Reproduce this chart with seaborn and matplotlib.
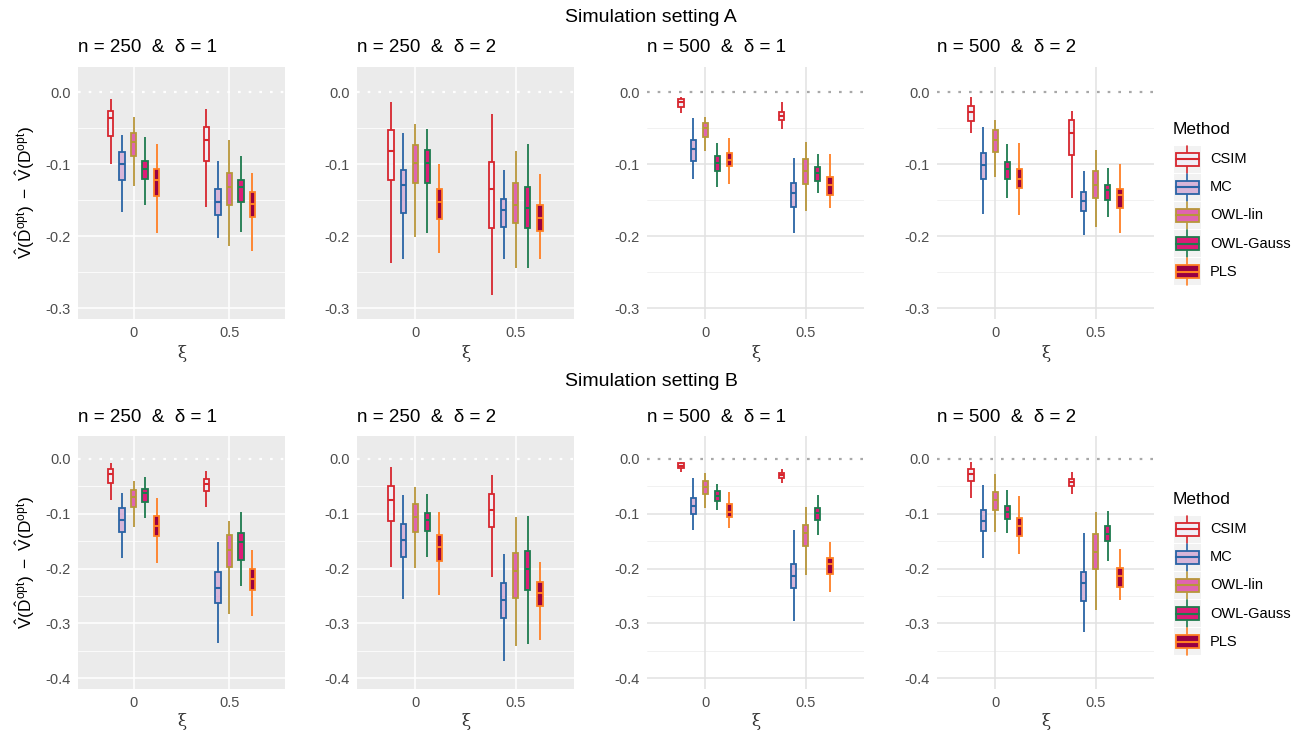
import numpy as np
import pandas as pd
import seaborn as sns
import matplotlib.pyplot as plt
from matplotlib.patches import Rectangle

sns.set_theme(style="white")
plt.rcParams["font.family"] = ["Liberation Sans", "DejaVu Sans"]
plt.rcParams["axes.unicode_minus"] = False
plt.rcParams["mathtext.fontset"] = "custom"
plt.rcParams["mathtext.rm"] = "Liberation Sans"
plt.rcParams["mathtext.it"] = "Liberation Sans:italic"

methods = ["CSIM", "MC", "OWL-lin", "OWL-Gauss", "PLS"]
xi_levels = ["0", "0.5"]
fill_colors = ["#F1EEF6", "#D7B5D8", "#DF65B0", "#DD1C77", "#980043"]
edge_colors = ["#D7262E", "#2A64A5", "#B8963A", "#1E7B4E", "#FF7F24"]

# box summaries, one row per (xi, method):
# lower whisker, q1, median, q3, upper whisker
a_n250_d1 = [
    [-0.100, -0.061, -0.036, -0.026, -0.009],
    [-0.167, -0.122, -0.100, -0.083, -0.059],
    [-0.130, -0.088, -0.069, -0.056, -0.035],
    [-0.156, -0.121, -0.106, -0.096, -0.062],
    [-0.196, -0.144, -0.122, -0.107, -0.072],
    [-0.159, -0.095, -0.067, -0.049, -0.024],
    [-0.203, -0.171, -0.153, -0.134, -0.095],
    [-0.214, -0.156, -0.131, -0.112, -0.067],
    [-0.194, -0.153, -0.132, -0.122, -0.088],
    [-0.220, -0.174, -0.155, -0.139, -0.112],
]
a_n250_d2 = [
    [-0.237, -0.122, -0.082, -0.053, -0.014],
    [-0.231, -0.168, -0.129, -0.108, -0.057],
    [-0.201, -0.126, -0.099, -0.073, -0.044],
    [-0.195, -0.126, -0.098, -0.080, -0.051],
    [-0.224, -0.176, -0.152, -0.134, -0.100],
    [-0.282, -0.188, -0.134, -0.097, -0.030],
    [-0.231, -0.187, -0.164, -0.149, -0.108],
    [-0.244, -0.182, -0.156, -0.126, -0.082],
    [-0.244, -0.188, -0.161, -0.132, -0.072],
    [-0.231, -0.193, -0.175, -0.157, -0.114],
]
a_n500_d1 = [
    [-0.029, -0.020, -0.014, -0.009, -0.006],
    [-0.120, -0.096, -0.079, -0.067, -0.036],
    [-0.082, -0.062, -0.050, -0.043, -0.035],
    [-0.132, -0.110, -0.099, -0.088, -0.071],
    [-0.127, -0.102, -0.094, -0.085, -0.063],
    [-0.051, -0.038, -0.033, -0.027, -0.014],
    [-0.195, -0.160, -0.140, -0.126, -0.091],
    [-0.165, -0.128, -0.109, -0.093, -0.069],
    [-0.140, -0.123, -0.112, -0.104, -0.086],
    [-0.161, -0.143, -0.129, -0.118, -0.086],
]
a_n500_d2 = [
    [-0.056, -0.040, -0.027, -0.019, -0.006],
    [-0.169, -0.121, -0.101, -0.085, -0.049],
    [-0.118, -0.083, -0.066, -0.052, -0.039],
    [-0.147, -0.120, -0.107, -0.097, -0.072],
    [-0.170, -0.133, -0.120, -0.106, -0.071],
    [-0.147, -0.087, -0.056, -0.039, -0.026],
    [-0.199, -0.165, -0.151, -0.138, -0.109],
    [-0.187, -0.147, -0.129, -0.109, -0.080],
    [-0.174, -0.150, -0.136, -0.129, -0.105],
    [-0.195, -0.161, -0.143, -0.134, -0.100],
]
b_n250_d1 = [
    [-0.075, -0.043, -0.028, -0.019, -0.008],
    [-0.181, -0.134, -0.112, -0.089, -0.062],
    [-0.124, -0.088, -0.069, -0.057, -0.041],
    [-0.107, -0.078, -0.062, -0.054, -0.032],
    [-0.189, -0.140, -0.122, -0.104, -0.071],
    [-0.087, -0.058, -0.046, -0.036, -0.022],
    [-0.336, -0.263, -0.236, -0.207, -0.151],
    [-0.283, -0.198, -0.166, -0.138, -0.113],
    [-0.232, -0.184, -0.152, -0.135, -0.096],
    [-0.287, -0.239, -0.220, -0.201, -0.166],
]
b_n250_d2 = [
    [-0.197, -0.113, -0.074, -0.049, -0.014],
    [-0.255, -0.179, -0.148, -0.118, -0.065],
    [-0.199, -0.133, -0.105, -0.083, -0.052],
    [-0.179, -0.131, -0.112, -0.099, -0.064],
    [-0.249, -0.187, -0.160, -0.139, -0.096],
    [-0.215, -0.124, -0.093, -0.063, -0.029],
    [-0.369, -0.291, -0.258, -0.226, -0.173],
    [-0.342, -0.253, -0.204, -0.171, -0.105],
    [-0.337, -0.240, -0.200, -0.168, -0.104],
    [-0.330, -0.269, -0.245, -0.224, -0.188],
]
b_n500_d1 = [
    [-0.023, -0.017, -0.012, -0.008, -0.005],
    [-0.130, -0.101, -0.086, -0.071, -0.034],
    [-0.089, -0.063, -0.052, -0.040, -0.025],
    [-0.093, -0.076, -0.067, -0.059, -0.045],
    [-0.126, -0.105, -0.096, -0.083, -0.061],
    [-0.043, -0.035, -0.030, -0.026, -0.018],
    [-0.295, -0.235, -0.213, -0.191, -0.130],
    [-0.212, -0.159, -0.136, -0.120, -0.087],
    [-0.138, -0.112, -0.098, -0.089, -0.065],
    [-0.243, -0.210, -0.192, -0.180, -0.151],
]
b_n500_d2 = [
    [-0.071, -0.040, -0.028, -0.018, -0.006],
    [-0.181, -0.132, -0.114, -0.094, -0.047],
    [-0.133, -0.094, -0.075, -0.060, -0.027],
    [-0.135, -0.109, -0.096, -0.086, -0.057],
    [-0.173, -0.141, -0.123, -0.107, -0.068],
    [-0.063, -0.049, -0.042, -0.036, -0.024],
    [-0.316, -0.260, -0.227, -0.207, -0.135],
    [-0.276, -0.200, -0.169, -0.137, -0.097],
    [-0.187, -0.150, -0.137, -0.122, -0.095],
    [-0.258, -0.233, -0.213, -0.199, -0.164],
]

panel_titles = ["n = 250  &  δ = 1", "n = 250  &  δ = 2",
                "n = 500  &  δ = 1", "n = 500  &  δ = 2"]
row_titles = ["Simulation setting A", "Simulation setting B"]
rows = [[a_n250_d1, a_n250_d2, a_n500_d1, a_n500_d2],
        [b_n250_d1, b_n250_d2, b_n500_d1, b_n500_d2]]
row_major = [[-0.3, -0.2, -0.1, 0.0], [-0.4, -0.3, -0.2, -0.1, 0.0]]
row_minor = [[-0.25, -0.15, -0.05], [-0.35, -0.25, -0.15, -0.05]]
row_ylim = [(-0.315, 0.035), (-0.42, 0.042)]

ylab = r"$\hat{\mathrm{V}}(\hat{\mathrm{D}}^{\mathrm{opt}})\ -\ \hat{\mathrm{V}}(\mathrm{D}^{\mathrm{opt}})$"


def to_long(stats):
    recs = []
    i = 0
    for xi in xi_levels:
        for m in methods:
            for v in stats[i]:
                recs.append({"xi": xi, "method": m, "value": v})
            i += 1
    return pd.DataFrame(recs)


W, H = 1303, 735
fig = plt.figure(figsize=(W / 100, H / 100), dpi=100)


def px_axes(x0, y0, x1, y1):
    return fig.add_axes([x0 / W, 1 - y1 / H, (x1 - x0) / W, (y1 - y0) / H])


panel_x = [(78, 285), (357, 574), (647, 864), (937, 1154)]
row_y = [(67, 319), (436, 689)]
title_y = [48, 418]
suptitle_y = [18, 382]
xlab_y = [353, 721]
legend_title_y = [129, 499]
legend_key_y = [159, 529]

for r in range(2):
    y0, y1 = row_y[r]
    fig.text(651 / W, 1 - suptitle_y[r] / H, row_titles[r], ha="center", va="center",
             fontsize=14, color="black")
    for p in range(4):
        x0, x1 = panel_x[p]
        ax = px_axes(x0, y0, x1, y1)
        gray = p < 2
        df = to_long(rows[r][p])
        sns.boxplot(data=df, x="xi", y="value", hue="method", order=xi_levels,
                    hue_order=methods, palette=fill_colors, saturation=1,
                    width=0.6, gap=0.55, whis=(0, 100), linewidth=1.2,
                    fliersize=0, legend=False, ax=ax)
        for k, cont in enumerate(ax.containers):
            ec = edge_colors[k]
            for b in cont.boxes:
                b.set_edgecolor(ec)
                b.set_facecolor(fill_colors[k])
                b.set_linewidth(1.3)
                b.set_zorder(3)
            for ln in cont.medians:
                ln.set_color(ec)
                ln.set_linewidth(1.5)
                ln.set_zorder(4)
            for ln in cont.whiskers:
                ln.set_color(ec)
                ln.set_linewidth(1.3)
                ln.set_zorder(2)
            for ln in cont.caps:
                ln.set_visible(False)

        ax.set_xlim(-0.58, 1.58)
        ax.set_ylim(*row_ylim[r])
        ax.set_yticks(row_major[r])
        ax.set_yticklabels([f"{t:.1f}" for t in row_major[r]])
        ax.set_xticks([0, 1])
        ax.set_xticklabels(xi_levels)
        ax.set_xlabel("")
        ax.set_ylabel("")
        ax.grid(False)
        for s in ax.spines.values():
            s.set_visible(False)

        if gray:
            ax.set_facecolor("#EBEBEB")
            major_col, minor_col, zero_col = "white", "white", "white"
            ax.tick_params(length=2.75, width=0.8, color="#333333",
                           pad=2.2, labelsize=10.5, labelcolor="#4D4D4D")
        else:
            ax.set_facecolor("white")
            major_col, minor_col, zero_col = "#E2E2E2", "#EEEEEE", "#A8A8A8"
            ax.tick_params(length=0, pad=5, labelsize=10.5, labelcolor="#4D4D4D")

        # panel grid (no solid line at zero, the dotted reference line sits there)
        for t in row_major[r]:
            if t != 0.0:
                ax.axhline(t, color=major_col, linewidth=1.1, zorder=0.5)
        for t in row_minor[r]:
            ax.axhline(t, color=minor_col, linewidth=0.55, zorder=0.5)
        for t in [0, 1]:
            ax.axvline(t, color=major_col, linewidth=1.1, zorder=0.5)
        ax.axhline(0, color=zero_col, linestyle=(0, (1.2, 3.6)), linewidth=1.6, zorder=1)

        fig.text(x0 / W, 1 - title_y[r] / H, panel_titles[p], ha="left", va="center",
                 fontsize=13.5, color="black")
        fig.text((x0 + x1) / 2 / W, 1 - xlab_y[r] / H, "ξ", ha="center", va="center",
                 fontsize=12, family="DejaVu Serif", color="#333333")

    fig.text(25 / W, 1 - (y0 + y1) / 2 / H, ylab, rotation=90, ha="center",
             va="center", fontsize=12.5, color="black")

    # legend drawn in pixel coordinates
    lt = legend_title_y[r] - 16
    lb = legend_key_y[r] + 5 * 28 + 4
    lax = px_axes(1165, lt, 1303, lb)
    lax.set_xlim(1165, 1303)
    lax.set_ylim(lb, lt)
    lax.axis("off")
    lax.text(1173, legend_title_y[r], "Method", ha="left", va="center",
             fontsize=12.5, color="black")
    for i, m in enumerate(methods):
        cy = legend_key_y[r] + i * 28.2
        cx = 1187
        lax.add_patch(Rectangle((cx - 13.5, cy - 13.5), 27, 27, facecolor="#F2F2F2",
                                edgecolor="none", zorder=1))
        lax.plot([cx, cx], [cy - 13.5, cy + 13.5], color=edge_colors[i], lw=1.2, zorder=2)
        lax.add_patch(Rectangle((cx - 11.5, cy - 6.5), 23, 13, facecolor=fill_colors[i],
                                edgecolor=edge_colors[i], lw=1.3, zorder=3))
        lax.plot([cx - 11.5, cx + 11.5], [cy, cy], color=edge_colors[i], lw=1.5, zorder=4)
        lax.text(1210, cy, m, ha="left", va="center", fontsize=10.5, color="black")

fig.savefig("out.png", dpi=100)
